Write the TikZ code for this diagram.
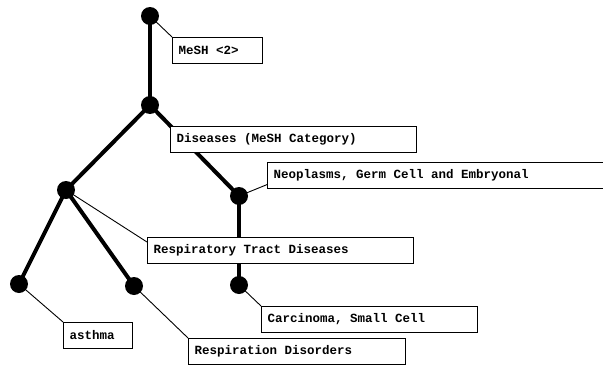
\documentclass[tikz,border=0pt]{standalone}
\usepackage{fontspec}
\setmonofont{Liberation Mono}
\usetikzlibrary{backgrounds,calc}
\begin{document}
\begin{tikzpicture}[x=1pt,y=-1pt,
  dot/.style={circle,fill=black,inner sep=0pt,minimum size=18pt},
  branch/.style={line width=4pt},
  pointer/.style={line width=0.9pt},
  label box/.style={draw,line width=1.1pt,fill=white,anchor=north west,
    font=\ttfamily\bfseries\fontsize{12.5}{14}\selectfont,
    execute at begin node={\spaceskip 7.5pt\xspaceskip 7.5pt\relax},
    inner xsep=6pt,inner ysep=0pt,align=left,minimum height=25.5pt}]
\useasboundingbox (0,0) rectangle (603,367);

% tree vertices
\node[dot] (root) at (150,16) {};
\node[dot] (dis)  at (150,105) {};
\node[dot] (neo)  at (239,196) {};
\node[dot] (rtd)  at (66,190) {};
\node[dot] (ast)  at (19,284) {};
\node[dot] (rdis) at (134,286) {};
\node[dot] (car)  at (239,285) {};

% labels
\node[label box,text width=78pt]  (lmesh) at (172,37)  {MeSH <2>};
\node[label box,text width=234pt] (ldis)  at (170,126) {Diseases (MeSH Category)};
\node[label box,text width=340pt] (lneo)  at (267,162) {Neoplasms, Germ Cell and Embryonal};
\node[label box,text width=254pt] (lrtd)  at (147,237) {Respiratory Tract Diseases};
\node[label box,text width=204pt] (lcar)  at (261,306) {Carcinoma, Small Cell};
\node[label box,text width=57pt]  (last)  at (63,322)  {asthma};
\node[label box,text width=205pt] (lrdis) at (188,338) {Respiration Disorders};

\begin{scope}[on background layer]
  % hierarchy edges
  \draw[branch] (root.center) -- (dis.center);
  \draw[branch] (dis.center) -- (neo.center);
  \draw[branch] (dis.center) -- (rtd.center);
  \draw[branch] (rtd.center) -- (ast.center);
  \draw[branch] (rtd.center) -- (rdis.center);
  \draw[branch] (neo.center) -- (car.center);
  % label pointers
  \draw[pointer] (root.center) -- (lmesh.north west);
  \draw[pointer] (dis.center) -- (ldis.north west);
  \draw[pointer] (neo.center) -- ($(lneo.south west)+(0,-4)$);
  \draw[pointer] (rtd.center) -- ($(lrtd.north west)+(0,5)$);
  \draw[pointer] (car.center) -- (lcar.north west);
  \draw[pointer] (ast.center) -- (last.north west);
  \draw[pointer] (rdis.center) -- (lrdis.north west);
\end{scope}
\end{tikzpicture}
\end{document}
